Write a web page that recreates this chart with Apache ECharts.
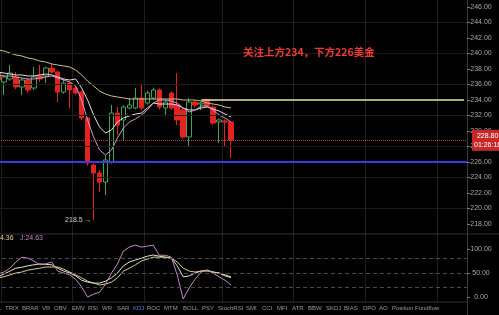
<!DOCTYPE html>
<html><head><meta charset="utf-8">
<script src="https://cdn.jsdelivr.net/npm/echarts@6/dist/echarts.min.js"></script>
<style>html,body{margin:0;padding:0;background:#000;}#c{width:499px;height:315px;}</style>
</head><body><div id="c"></div>
<script>
// ---- data ----
const opens  = [237.48,236.32,236.71,236.97,235.68,236.58,235.55,237.10,237.10,238.13,237.61,235.03,236.19,235.55,235.03,231.68,225.61,224.58,223.42,226.00,232.32,231.42,232.97,232.97,234.26,233.61,234.26,235.29,232.97,234.90,233.35,232.71,229.23,233.74,233.48,234.00,233.10,231.16,231.30,231.16];
const closes = [236.58,236.97,237.48,235.68,236.58,235.29,236.97,236.71,238.13,237.61,235.03,236.19,235.29,234.90,231.68,225.87,224.58,223.42,226.26,232.32,230.77,233.10,233.35,234.26,232.97,234.90,235.29,233.10,233.74,232.97,231.42,229.23,233.74,233.35,233.61,233.23,231.03,231.42,231.16,228.80];
const lows   = [236.40,234.65,236.50,235.40,234.65,235.00,235.30,236.30,236.19,237.40,233.74,234.80,232.97,234.60,231.40,225.50,218.50,222.13,221.74,225.80,229.48,228.84,232.80,232.80,232.70,233.40,234.00,232.80,232.06,232.70,230.77,229.00,227.94,233.00,232.70,233.00,230.80,228.45,227.94,226.52];
const highs  = [237.60,237.20,238.52,237.60,236.80,236.80,238.26,238.52,238.30,238.65,237.80,236.71,236.40,235.80,235.20,231.80,225.80,224.97,226.90,233.35,233.10,233.30,234.26,235.55,235.94,235.20,235.60,235.50,234.00,235.10,237.48,233.00,234.26,234.00,233.80,234.20,233.30,231.60,231.50,231.30];
const maSlow = [240.45,240.32,240.06,239.81,239.68,239.42,239.29,239.03,238.90,238.65,238.52,238.39,238.26,237.87,237.23,236.45,235.81,235.16,234.77,234.52,234.39,234.26,234.13,234.13,234.13,234.13,234.13,234.13,234.13,234.13,234.13,234.00,234.00,234.00,233.87,233.61,233.48,233.35,233.10,232.97];
const maMid  = [237.61,237.48,237.35,237.23,237.23,237.10,237.10,237.23,237.35,237.23,236.97,236.71,236.58,236.71,235.55,234.00,232.06,230.52,229.74,230.13,231.16,231.68,231.94,232.19,232.32,232.97,233.61,233.48,233.48,233.48,233.35,232.97,232.71,232.71,232.97,233.10,232.84,232.58,232.19,231.81];
const maFast = [237.23,237.10,237.10,236.97,236.84,236.71,236.71,236.84,236.97,237.10,236.84,236.58,236.32,235.81,234.00,231.42,229.23,227.55,226.90,227.55,229.10,230.39,231.16,231.55,232.06,232.71,233.61,234.00,234.00,233.87,233.61,232.97,232.45,232.71,233.23,233.23,232.71,232.06,231.68,231.16];
const kdjK = [42,48,54,60,62,65,67,69,68,67,60,54,50,44,35,31,29,29,33,40,50,65,73,77,81,85,87.5,85,83,81,65,42,44,50,54,56,52,50,46,42];
const kdjD = [40,42,46,50,52,56,58,60,62.5,62.5,62.5,58,52,46,40,33,29,25,27,31,40,54,60,67,75,79,83,83,83,81,73,60,54,52,54,54,52,50,44,40];
const kdjJ = [48,52,60,73,83,81,75,67,69,73,54,50,46,37,21,0,6,10,27,50,69,96,104,108,104,106,108,87,87,83,46,-4,19,37,52,56,50,42,35,24.63];
const priceTicksMin = 216, priceTicksMax = 248, priceStep = 2;
const gridPrices = [220,224,228,232,236,240,244];
const kdjLevels = [20,50,80];
const supportLevel = 226, resistanceLevel = 234, lastPrice = 228.80;
const lowMark = 218.5;
const countdown = '01:26:18';
const note = '关注上方234，下方226美金';
const tabNames = ['L','TRIX','BRAR','VR','OBV','EMV','RSI','WR','SAR','KDJ','ROC','MTM','BOLL','PSY','StochRSI','SMI','CCI','MFI','ATR','BBW','SKDJ','BIAS','DPO','AO','Position','Fundflow'];
const legendD = '4.36', legendJ = 'J:24.63';

// ---- layout ----
const tabX = [-2,5,22,42,54,72,88,102,117,133,147,164,183,202,218,246,262,277,292,308,326,344,363,379,392,415];
const NCAT = 79;
const cats = Array.from({length: NCAT}, (_, i) => 'c' + i);
const candles = opens.map((o, i) => [o, closes[i], lows[i], highs[i]]);
const vIdx = [1,13,25,38,50,62,74];
const FONT = 'Liberation Sans';

const xAx = (gi) => ({
  type: 'category', gridIndex: gi, data: cats, boundaryGap: true,
  axisLine: {show: false}, axisTick: {show: false}, axisLabel: {show: false},
  splitLine: {show: true, interval: (idx) => vIdx.includes(idx), lineStyle: {color: '#1f1f1f', width: 1}}
});

const chart = echarts.init(document.getElementById('c'), null, {renderer: 'canvas'});
chart.setOption({
  backgroundColor: '#000',
  animation: false,
  grid: [
    {left: -5, right: 32, top: -8.5, height: 248, outerBoundsMode: 'none', containLabel: false},
    {left: -5, right: 32, top: 225, height: 96, outerBoundsMode: 'none', containLabel: false}
  ],
  xAxis: [xAx(0), xAx(1)],
  yAxis: [
    {type: 'value', gridIndex: 0, position: 'right', min: priceTicksMin, max: priceTicksMax, interval: priceStep,
     axisLine: {show: true, lineStyle: {color: '#3a3a3a'}},
     axisTick: {show: true, length: 3, lineStyle: {color: '#777'}},
     splitLine: {show: false},
     axisLabel: {showMinLabel: false, showMaxLabel: false, color: '#a8a8a8', fontSize: 7, fontFamily: FONT, align: 'center', margin: 14, formatter: v => v.toFixed(2)}},
    {type: 'value', gridIndex: 1, position: 'right', min: -50, max: 150, interval: 50,
     axisLine: {show: true, lineStyle: {color: '#3a3a3a'}},
     axisTick: {show: true, length: 3, lineStyle: {color: '#777'}},
     splitLine: {show: false},
     axisLabel: {showMinLabel: false, showMaxLabel: false, color: '#a8a8a8', fontSize: 7, fontFamily: FONT, align: 'center', margin: 14, formatter: v => v.toFixed(2)}}
  ],
  series: [
    {type: 'line', xAxisIndex: 0, yAxisIndex: 0, data: [], z: 0, silent: true,
     markLine: {silent: true, symbol: 'none', label: {show: false}, lineStyle: {color: '#1c1c1c', type: 'solid', width: 1},
       data: gridPrices.map(v => ({yAxis: v}))}},
    {type: 'candlestick', xAxisIndex: 0, yAxisIndex: 0, data: candles, barWidth: 5, z: 2,
     itemStyle: {color: '#000', color0: '#e3231f', borderColor: '#3fa35a', borderColor0: '#e3231f', borderWidth: 1},
     markLine: {silent: true, symbol: 'none', z: 5,
       data: [
         {yAxis: supportLevel, lineStyle: {color: '#3a3ae0', width: 2, type: 'solid'}, label: {show: false}},
         {yAxis: lastPrice, lineStyle: {color: '#c0392b', width: 1, type: 'dotted'},
          label: {show: true, position: 'end', distance: 5, backgroundColor: '#c62828', padding: [2, 2, 1, 2],
                  formatter: '{a|' + lastPrice.toFixed(2) + '}\n{b|' + countdown + '}',
                  rich: {a: {color: '#fff', fontSize: 7, fontFamily: FONT, lineHeight: 9, align: 'center'},
                         b: {color: '#fff', fontSize: 7, fontFamily: FONT, lineHeight: 9, align: 'center'}}}},
         [{coord: [34, resistanceLevel], lineStyle: {color: '#e6e4a4', width: 1.5, type: 'solid'}, label: {show: false}},
          {coord: [NCAT - 1, resistanceLevel]}]
       ]},
     markPoint: {silent: true,
       data: [{coord: [16, lowMark], symbol: 'circle', symbolSize: 0,
               label: {show: true, position: 'left', distance: 2, formatter: lowMark + ' →', color: '#cfcfcf', fontSize: 7, fontFamily: FONT}}]}},
    {type: 'line', xAxisIndex: 0, yAxisIndex: 0, data: maSlow, showSymbol: false, z: 3, lineStyle: {color: '#cdc088', width: 1}},
    {type: 'line', xAxisIndex: 0, yAxisIndex: 0, data: maMid, showSymbol: false, z: 3, lineStyle: {color: '#e6dede', width: 1}},
    {type: 'line', xAxisIndex: 0, yAxisIndex: 0, data: maFast, showSymbol: false, z: 3, lineStyle: {color: '#cf9acb', width: 1}},
    {type: 'line', xAxisIndex: 1, yAxisIndex: 1, data: kdjK, showSymbol: false, lineStyle: {color: '#e4e0d8', width: 1},
     markLine: {silent: true, symbol: 'none', label: {show: false}, lineStyle: {color: '#4a4a4a', type: [4, 3], width: 1},
       data: kdjLevels.map(v => ({yAxis: v}))}},
    {type: 'line', xAxisIndex: 1, yAxisIndex: 1, data: kdjD, showSymbol: false, lineStyle: {color: '#d8d08a', width: 1}},
    {type: 'line', xAxisIndex: 1, yAxisIndex: 1, data: kdjJ, showSymbol: false, lineStyle: {color: '#c488c8', width: 1}}
  ],
  graphic: [
    {type: 'line', shape: {x1: 0, y1: 234, x2: 499, y2: 234}, style: {stroke: '#333', lineWidth: 1}, z: 10},
    {type: 'line', shape: {x1: 0, y1: 302, x2: 467, y2: 302}, style: {stroke: '#333', lineWidth: 1}, z: 10},
    {type: 'rect', shape: {x: 0, y: 302.5, width: 466, height: 13}, style: {fill: '#000'}, z: 9},
    {type: 'text', left: 243, top: 47, style: {text: note, fill: '#ee3a32', fontSize: 10.5, fontWeight: 'bold', fontFamily: 'Noto Sans CJK SC'}, z: 10},
    {type: 'text', left: 0, top: 235, style: {text: legendD, fill: '#dcd38e', fontSize: 7, fontFamily: FONT}, z: 10},
    {type: 'text', left: 20, top: 235, style: {text: legendJ, fill: '#c488c8', fontSize: 7, fontFamily: FONT}, z: 10}
  ].concat(tabNames.map((t, i) => ({
    type: 'text', left: tabX[i], top: 305, z: 11,
    style: {text: t, fill: t === 'KDJ' ? '#4d86d6' : '#9a9a9a', fontSize: 6, fontFamily: FONT}
  })))
});
</script></body></html>
